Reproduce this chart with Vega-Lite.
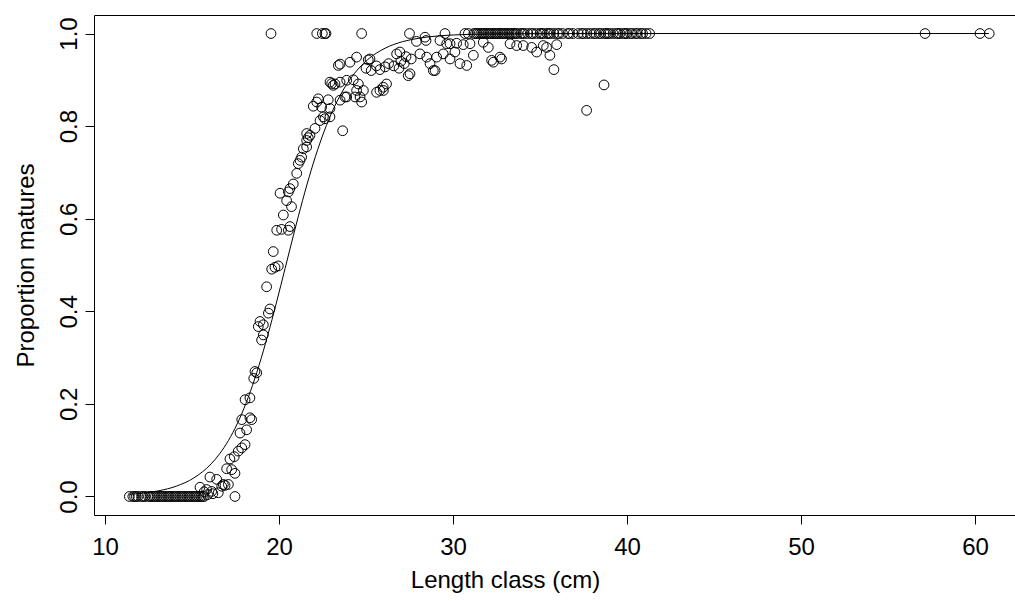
{
"$schema": "https://vega.github.io/schema/vega-lite/v6.json",
"width": 921, "height": 500,
"autosize": {"type": "none"},
"padding": {"left": 94, "top": 15, "right": 0, "bottom": 86},
"background": "white",
"config": {
  "view": {"stroke": null},
  "font": "Liberation Sans",
  "axis": {"grid": false, "domainColor": "black", "tickColor": "black", "labelColor": "black", "titleColor": "black", "tickSize": 9, "labelFont": "Liberation Sans", "titleFont": "Liberation Sans", "labelFontSize": 24, "titleFontSize": 24, "titleFontWeight": "normal", "domainWidth": 1, "tickWidth": 1}
},
"datasets": {
  "fit": [
    {"x": 11.4, "y": 0.0045}, {"x": 12.1, "y": 0.0068}, {"x": 13.1, "y": 0.0124}, {"x": 14.1, "y": 0.0223}, {"x": 15.1, "y": 0.0399},
    {"x": 16.1, "y": 0.0704}, {"x": 16.6, "y": 0.0928}, {"x": 17.1, "y": 0.1213}, {"x": 17.6, "y": 0.157}, {"x": 18.1, "y": 0.201},
    {"x": 18.6, "y": 0.2535}, {"x": 19.1, "y": 0.3144}, {"x": 19.6, "y": 0.3822}, {"x": 20.1, "y": 0.4551}, {"x": 20.6, "y": 0.53},
    {"x": 21.1, "y": 0.6035}, {"x": 21.6, "y": 0.6726}, {"x": 22.1, "y": 0.735}, {"x": 22.6, "y": 0.7892}, {"x": 23.1, "y": 0.8348},
    {"x": 23.6, "y": 0.8721}, {"x": 24.1, "y": 0.902}, {"x": 25.1, "y": 0.9438}, {"x": 26.1, "y": 0.9683}, {"x": 27.1, "y": 0.9824},
    {"x": 28.1, "y": 0.9902}, {"x": 29.1, "y": 0.9946}, {"x": 30.1, "y": 0.997}, {"x": 32.1, "y": 0.9991}, {"x": 35, "y": 0.9998},
    {"x": 40, "y": 1}, {"x": 60.8, "y": 1}
  ],
  "pts": [
    {"x":11.4,"y":0},{"x":11.6,"y":0},{"x":11.7,"y":0},{"x":11.8,"y":0},{"x":11.9,"y":0},{"x":12.1,"y":0},{"x":12.2,"y":0},{"x":12.3,"y":0},{"x":12.5,"y":0},{"x":12.6,"y":0},
    {"x":12.7,"y":0},{"x":12.8,"y":0},{"x":12.9,"y":0},{"x":13.0,"y":0},{"x":13.1,"y":0},{"x":13.2,"y":0},{"x":13.3,"y":0},{"x":13.4,"y":0},{"x":13.5,"y":0},{"x":13.6,"y":0},
    {"x":13.7,"y":0},{"x":13.8,"y":0},{"x":13.9,"y":0},{"x":14.0,"y":0},{"x":14.1,"y":0},{"x":14.2,"y":0},{"x":14.3,"y":0},{"x":14.4,"y":0},{"x":14.5,"y":0},{"x":14.6,"y":0},
    {"x":14.7,"y":0},{"x":14.8,"y":0},{"x":14.9,"y":0},{"x":15.0,"y":0},{"x":15.1,"y":0},{"x":15.2,"y":0},{"x":15.3,"y":0},{"x":15.4,"y":0},{"x":15.5,"y":0},{"x":15.6,"y":0},
    {"x":15.7,"y":0},{"x":17.47,"y":0},
    {"x":15.46,"y":0.02},{"x":15.7,"y":0.01},{"x":15.84,"y":0.015},{"x":15.9,"y":0.004},{"x":16.03,"y":0.042},{"x":16.13,"y":0.011},{"x":16.2,"y":0.006},{"x":16.42,"y":0.037},
    {"x":16.51,"y":0.008},{"x":16.71,"y":0.022},{"x":16.8,"y":0.026},{"x":16.9,"y":0.024},{"x":17.09,"y":0.026},{"x":16.99,"y":0.06},{"x":17.28,"y":0.058},{"x":17.47,"y":0.05},
    {"x":17.18,"y":0.081},{"x":17.43,"y":0.086},{"x":17.66,"y":0.098},{"x":17.86,"y":0.105},{"x":18.05,"y":0.112},{"x":17.76,"y":0.137},{"x":18.14,"y":0.144},{"x":17.86,"y":0.166},
    {"x":18.33,"y":0.17},{"x":18.43,"y":0.166},{"x":18.05,"y":0.209},{"x":18.33,"y":0.213},{"x":18.55,"y":0.255},{"x":18.62,"y":0.27},{"x":18.72,"y":0.267},
    {"x":19.1,"y":0.349},{"x":19.0,"y":0.338},{"x":18.91,"y":0.378},{"x":18.81,"y":0.367},{"x":19.1,"y":0.371},{"x":19.48,"y":0.405},{"x":19.39,"y":0.396},{"x":19.29,"y":0.453},
    {"x":19.58,"y":0.491},{"x":19.77,"y":0.495},{"x":19.96,"y":0.498},{"x":19.67,"y":0.529},{"x":19.87,"y":0.575},{"x":20.15,"y":0.577},{"x":20.63,"y":0.583},{"x":20.54,"y":0.575},
    {"x":20.25,"y":0.608},{"x":20.44,"y":0.639},{"x":20.72,"y":0.626},{"x":20.06,"y":0.655},{"x":20.54,"y":0.658},{"x":20.82,"y":0.675},{"x":20.63,"y":0.665},{"x":21.02,"y":0.698},
    {"x":21.11,"y":0.719},{"x":21.21,"y":0.726},{"x":21.3,"y":0.733},{"x":21.4,"y":0.751},{"x":21.59,"y":0.755},{"x":21.59,"y":0.769},{"x":21.68,"y":0.775},{"x":21.78,"y":0.78},
    {"x":21.59,"y":0.784},{"x":22.07,"y":0.795},{"x":22.36,"y":0.812},{"x":22.55,"y":0.82},{"x":22.64,"y":0.816},{"x":22.93,"y":0.82},{"x":21.97,"y":0.843},{"x":22.45,"y":0.841},
    {"x":22.93,"y":0.838},{"x":22.26,"y":0.859},{"x":22.17,"y":0.852},{"x":22.83,"y":0.857},{"x":23.51,"y":0.856},{"x":23.03,"y":0.892},{"x":23.22,"y":0.891},{"x":23.12,"y":0.888},
    {"x":22.93,"y":0.895},{"x":23.51,"y":0.895},{"x":23.89,"y":0.899},{"x":24.27,"y":0.9},{"x":24.56,"y":0.891},{"x":23.89,"y":0.863},{"x":24.46,"y":0.877},{"x":24.85,"y":0.877},
    {"x":24.66,"y":0.863},{"x":24.75,"y":0.852},{"x":24.37,"y":0.863},{"x":23.79,"y":0.863},{"x":23.41,"y":0.931},{"x":23.51,"y":0.934},{"x":24.08,"y":0.938},{"x":24.46,"y":0.949},
    {"x":25.13,"y":0.943},{"x":23.66,"y":0.79},{"x":25.61,"y":0.873},{"x":26.0,"y":0.877},{"x":26.18,"y":0.891},{"x":25.8,"y":0.877},{"x":25.99,"y":0.884},{"x":25.23,"y":0.945},
    {"x":26.76,"y":0.956},{"x":26.95,"y":0.96},{"x":25.0,"y":0.925},{"x":25.3,"y":0.92},{"x":25.6,"y":0.93},{"x":25.8,"y":0.922},{"x":26.1,"y":0.928},{"x":26.3,"y":0.935},
    {"x":26.6,"y":0.93},{"x":26.9,"y":0.925},{"x":27.2,"y":0.935},{"x":27.43,"y":0.909},{"x":27.53,"y":0.913},{"x":27.0,"y":0.94},{"x":27.3,"y":0.95},{"x":27.6,"y":0.945},
    {"x":27.9,"y":0.983},{"x":28.39,"y":0.992},{"x":28.45,"y":0.985},{"x":28.1,"y":0.956},{"x":28.49,"y":0.949},{"x":28.68,"y":0.935},{"x":29.06,"y":0.949},{"x":29.44,"y":0.956},
    {"x":29.83,"y":0.945},{"x":30.11,"y":0.96},{"x":30.4,"y":0.935},{"x":30.79,"y":0.931},{"x":31.17,"y":0.953},{"x":28.87,"y":0.92},{"x":28.97,"y":0.92},{"x":29.25,"y":0.985},
    {"x":29.64,"y":0.978},{"x":29.83,"y":0.978},{"x":30.21,"y":0.979},{"x":30.59,"y":0.976},{"x":30.98,"y":0.978},{"x":31.74,"y":0.981},{"x":32.03,"y":0.97},{"x":32.22,"y":0.942},
    {"x":32.7,"y":0.949},{"x":32.32,"y":0.938},{"x":32.79,"y":0.945},{"x":33.28,"y":0.978},{"x":33.66,"y":0.974},{"x":34.04,"y":0.974},{"x":34.52,"y":0.97},{"x":34.81,"y":0.96},
    {"x":35.19,"y":0.974},{"x":35.38,"y":0.97},{"x":35.57,"y":0.953},{"x":35.96,"y":0.976},{"x":35.8,"y":0.922},{"x":37.68,"y":0.834},{"x":38.68,"y":0.889},
    {"x":19.54,"y":1},{"x":22.17,"y":1},{"x":22.49,"y":1},{"x":22.64,"y":1},{"x":22.7,"y":1},{"x":24.75,"y":1},{"x":27.5,"y":1},{"x":29.54,"y":1},{"x":30.69,"y":1},{"x":30.88,"y":1},
    {"x":31.2,"y":1},{"x":31.3,"y":1},{"x":31.4,"y":1},{"x":31.5,"y":1},{"x":31.6,"y":1},{"x":31.7,"y":1},{"x":31.8,"y":1},{"x":31.9,"y":1},{"x":32.0,"y":1},{"x":32.1,"y":1},
    {"x":32.2,"y":1},{"x":32.3,"y":1},{"x":32.4,"y":1},{"x":32.5,"y":1},{"x":32.6,"y":1},{"x":32.7,"y":1},{"x":32.8,"y":1},{"x":32.9,"y":1},{"x":33.0,"y":1},{"x":33.1,"y":1},
    {"x":33.2,"y":1},{"x":33.3,"y":1},{"x":33.4,"y":1},{"x":33.5,"y":1},{"x":33.6,"y":1},{"x":33.7,"y":1},{"x":33.9,"y":1},{"x":34.0,"y":1},{"x":34.1,"y":1},{"x":34.3,"y":1},
    {"x":34.5,"y":1},{"x":34.6,"y":1},{"x":34.8,"y":1},{"x":35.0,"y":1},{"x":35.1,"y":1},{"x":35.2,"y":1},{"x":35.4,"y":1},{"x":35.5,"y":1},{"x":35.6,"y":1},{"x":35.8,"y":1},
    {"x":36.0,"y":1},{"x":36.1,"y":1},{"x":36.3,"y":1},{"x":36.6,"y":1},{"x":36.7,"y":1},{"x":36.9,"y":1},{"x":37.2,"y":1},{"x":37.4,"y":1},{"x":37.5,"y":1},{"x":37.7,"y":1},
    {"x":37.9,"y":1},{"x":38.1,"y":1},{"x":38.2,"y":1},{"x":38.4,"y":1},{"x":38.5,"y":1},{"x":38.7,"y":1},{"x":38.8,"y":1},{"x":38.9,"y":1},{"x":39.0,"y":1},{"x":39.2,"y":1},
    {"x":39.4,"y":1},{"x":39.5,"y":1},{"x":39.6,"y":1},{"x":39.8,"y":1},{"x":39.9,"y":1},{"x":40.0,"y":1},{"x":40.2,"y":1},{"x":40.3,"y":1},{"x":40.5,"y":1},{"x":40.6,"y":1},
    {"x":40.8,"y":1},{"x":40.9,"y":1},{"x":41.1,"y":1},{"x":41.3,"y":1},{"x":57.13,"y":1},{"x":60.29,"y":1},{"x":60.82,"y":1}
  ]
},
"resolve": {"axis": {"x": "independent"}},
"layer": [
  {
    "data": {"name": "fit"},
    "mark": {"type": "line", "color": "black", "strokeWidth": 1, "interpolate": "monotone"},
    "encoding": {
      "x": {"field": "x", "type": "quantitative", "scale": {"domain": [9.368, 62.3], "nice": false, "zero": false},
            "axis": {"orient": "bottom", "values": [10, 20, 30, 40, 50, 60], "format": "d", "labelPadding": 11, "title": "Length class (cm)", "titlePadding": 9, "titleX": 411}},
      "y": {"field": "y", "type": "quantitative", "scale": {"domain": [-0.04, 1.04], "nice": false, "zero": false},
            "axis": {"values": [0, 0.2, 0.4, 0.6, 0.8, 1], "format": ".1f", "labelAngle": -90, "labelAlign": "center", "labelBaseline": "bottom", "labelPadding": 4, "title": "Proportion matures", "titlePadding": 19}}
    }
  },
  {
    "data": {"name": "pts"},
    "mark": {"type": "point", "shape": "circle", "filled": false, "stroke": "black", "strokeWidth": 1, "size": 95, "opacity": 1},
    "encoding": {
      "x": {"field": "x", "type": "quantitative", "axis": {"orient": "top", "ticks": false, "labels": false, "title": null, "domain": true}},
      "y": {"field": "y", "type": "quantitative"}
    }
  }
]
}
